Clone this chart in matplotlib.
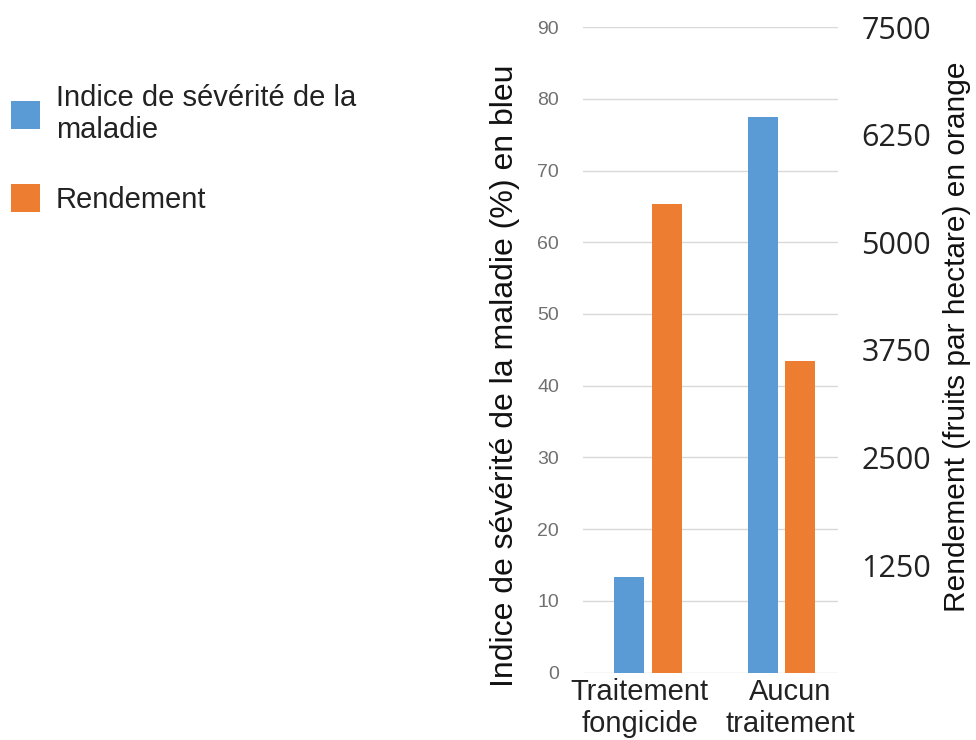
import numpy as np
import matplotlib
matplotlib.use("Agg")
import matplotlib.pyplot as plt
import matplotlib.transforms as mtransforms

plt.rcParams["font.family"] = ["Liberation Sans", "DejaVu Sans"]

categories = ["Traitement\nfongicide", "Aucun\ntraitement"]
severite = [13.4, 77.5]          # % (left axis)
rendement = [5450, 3625]         # fruits / ha (right axis)
left_ticks = [0, 10, 20, 30, 40, 50, 60, 70, 80, 90]
right_ticks = [1250, 2500, 3750, 5000, 6250, 7500]

BLUE = "#5B9BD5"
ORANGE = "#ED7D31"

fig = plt.figure(figsize=(9.76, 7.40), dpi=100)
ax = fig.add_axes([0.597, 0.0909, 0.2613, 0.8726])
ax2 = ax.twinx()

x = np.arange(len(categories))
w = 0.225
b1 = ax.bar(x - 0.14, severite, w, color=BLUE)
b2 = ax2.bar(x + 0.14, rendement, w, color=ORANGE)

ax.set_xlim(-0.49, 1.42)
ax.set_ylim(0, 90)
ax2.set_ylim(0, 7500)

ax.set_yticks(left_ticks)
ax.yaxis.grid(True, color="#d9d9d9", lw=1)
ax.set_axisbelow(True)
for a in (ax, ax2):
    for s in a.spines.values():
        s.set_visible(False)

ax.tick_params(axis="y", length=0, pad=17, labelsize=14, labelcolor="#707070")
ax.set_xticks(x, categories)
ax.tick_params(axis="x", length=0, pad=4, labelsize=21, labelcolor="#222222")
# category labels sit a little wider apart than the bar groups
for lab, dx in zip(ax.get_xticklabels(), [-6, 6]):
    lab.set_linespacing(1.15)
    lab.set_transform(lab.get_transform() +
                      mtransforms.ScaledTranslation(dx / 72, 0, fig.dpi_scale_trans))

ax2.set_yticks(right_ticks)
ax2.tick_params(axis="y", length=0, pad=17, labelsize=22, labelcolor="#222222")
for lab in ax2.get_yticklabels():
    lab.set_fontfamily("Open Sans")

fig.text(0.517, 0.492, "Indice de sévérité de la maladie (%) en bleu",
         rotation=90, ha="center", va="center", fontsize=23, color="#111111")
fig.text(0.981, 0.545, "Rendement (fruits par hectare) en orange",
         rotation=90, ha="center", va="center", fontsize=21.5, color="#111111")

fig.legend(handles=[b1, b2],
           labels=["Indice de sévérité de la\nmaladie", "Rendement"],
           loc="upper left", bbox_to_anchor=(0.011, 1 - 84 / 740),
           frameon=False, fontsize=21, handlelength=1.0, handleheight=1.1,
           handletextpad=0.55, labelspacing=1.35, borderpad=0, borderaxespad=0,
           labelcolor="#222222")

fig.savefig("out.png", dpi=100)
